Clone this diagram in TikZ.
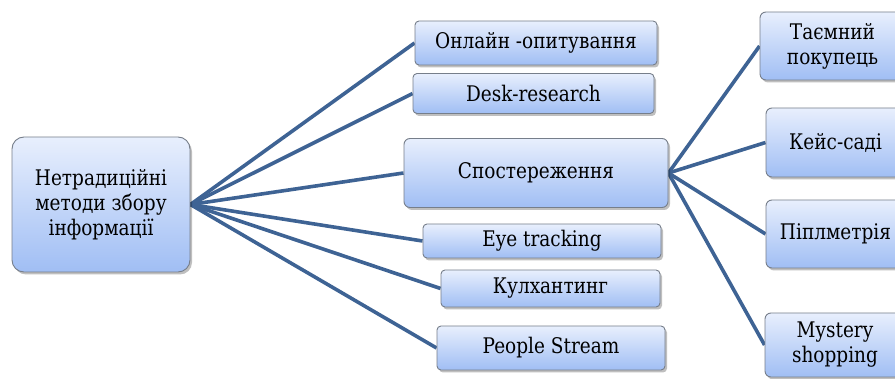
\documentclass[tikz,border=0pt]{standalone}
\usepackage{fontspec}
\setmainfont{DejaVu Serif}[FakeStretch=0.86]
\usetikzlibrary{shadows,backgrounds}
\definecolor{linkblue}{RGB}{62,99,148}
\definecolor{boxtop}{RGB}{232,239,253}
\definecolor{boxbottom}{RGB}{160,190,244}
\definecolor{boxedge}{RGB}{118,126,138}
\tikzset{
  mbox/.style={draw=boxedge, line width=0.9pt, rounded corners=4pt,
    top color=boxtop, bottom color=boxbottom, align=center,
    inner sep=0pt, font=\fontsize{21.5}{25}\selectfont,
    drop shadow={shadow xshift=2pt, shadow yshift=-2.5pt, opacity=0.25, fill=black}},
  link/.style={draw=linkblue, line width=3.6pt}
}
\begin{document}
\begin{tikzpicture}[x=1pt,y=-1pt]
\useasboundingbox (0,0) rectangle (895,379);

% root
\node[mbox, rounded corners=12pt, minimum width=178pt, minimum height=135pt] (root) at (101,204.5)
  {Нетрадиційні\\методи збору\\інформації};

% first level
\node[mbox, minimum width=242pt, minimum height=44pt] (onl) at (536,43) {Онлайн -опитування};
\node[mbox, minimum width=241pt, minimum height=40pt] (desk) at (533.5,93.5) {Desk-research};
\node[mbox, rounded corners=6pt, minimum width=264pt, minimum height=69pt] (obs) at (536,173) {Спостереження};
\node[mbox, minimum width=238pt, minimum height=34pt] (eye) at (542,241) {Eye tracking};
\node[mbox, minimum width=219pt, minimum height=37pt] (cool) at (550.5,288.5) {Кулхантинг};
\node[mbox, minimum width=228pt, minimum height=44pt] (ppl) at (551,348) {People Stream};

% second level
\node[mbox, rounded corners=6pt, minimum width=145pt, minimum height=68pt] (mys) at (832.5,46) {Таємний\\покупець};
\node[mbox, rounded corners=6pt, minimum width=139pt, minimum height=69pt] (case) at (835.5,142.5) {Кейс-саді};
\node[mbox, rounded corners=6pt, minimum width=139pt, minimum height=68pt] (pplm) at (835.5,234) {Піплметрія};
\node[mbox, rounded corners=6pt, minimum width=140pt, minimum height=64pt] (msh) at (835,345) {Mystery\\shopping};

\begin{scope}[on background layer]
  \foreach \t in {onl,desk,obs,eye,cool,ppl}
    \draw[link] (root.east) -- (\t.west);
  \foreach \t in {mys,case,pplm,msh}
    \draw[link] (obs.east) -- (\t.west);
\end{scope}
\end{tikzpicture}
\end{document}
